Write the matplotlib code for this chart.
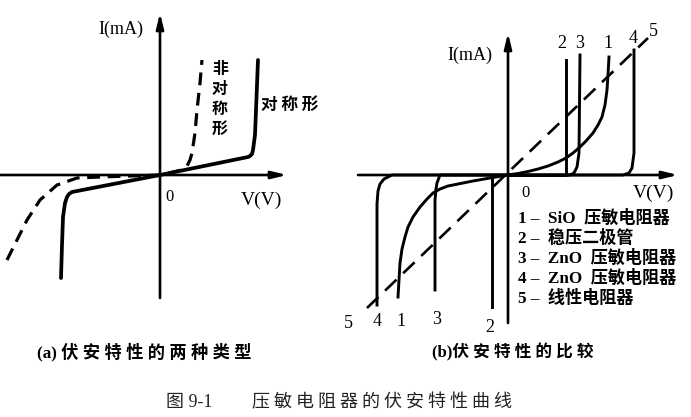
import matplotlib
matplotlib.use("Agg")
import matplotlib.pyplot as plt

W, H = 691, 417

# ---------------- data (arbitrary units, origin at 0) ----------------
# panel (a)
sym_v = [-99, -98, -97, -95, -93, -91, -88, 0, 88, 90, 92, 93, 95, 98]
sym_i = [-103, -70, -42, -28, -22, -19, -17, 0, 18, 19, 21, 25, 40, 115]
asym_v = [-153, -143, -133, -120, -103, -83, -60, 0, 22, 27, 30, 32, 35, 37, 40, 42]
asym_i = [-85, -65, -45, -25, -10, -3, -2, 0, 5, 9, 15, 22, 42, 65, 92, 115]

# panel (b)
sio_v = [-110, -109, -108, -106, -103, -100, -95, -88, -81, -75, -68, -60, -50,
         -35, -18, 0, 10, 20, 30, 40, 50, 58, 65, 72, 78, 85, 90, 94, 97, 99,
         100, 101]
sio_i = [-122, -105, -88, -74, -62, -52, -42, -32, -24, -18, -14, -11, -9,
         -6, -3, 0, 1.5, 3.5, 6, 9, 13, 17, 22, 28, 34, 42, 50, 58, 70, 85,
         100, 118]
zener_v = [-16, -16, 0, 58, 58]
zener_i = [-132, 0, 0, 0, 115]
zno3_v = [-73, -73, -72, -71, -68, 0, 62, 66, 69, 71, 72]
zno3_i = [-115, -25, -14, -8, 0, 0, 0, 2, 8, 22, 120]
zno4_v = [-131, -131, -130, -128, -124, -116, 0, 115, 121, 124, 126, 126]
zno4_i = [-130, -29, -16, -9, -4, 0, 0, 0, 2, 7, 22, 125]
lin_v = [-141, 140]
lin_i = [-133, 137]

top_labels = ["2", "3", "1", "4", "5"]
bottom_labels = ["5", "4", "1", "3", "2"]
legend_lines = ["1 –  SiO  压敏电阻器", "2 –  稳压二极管", "3 –  ZnO  压敏电阻器",
                "4 –  ZnO  压敏电阻器", "5 –  线性电阻器"]

# ---------------- figure ----------------
fig = plt.figure(figsize=(W / 100, H / 100), dpi=100)
fig.patch.set_facecolor("white")

LAT = ["Liberation Serif", "Noto Sans CJK SC", "DejaVu Sans"]
CJK = ["Noto Sans CJK SC", "DejaVu Sans"]


def panel(x0, x1, ox, oy):
    ax = fig.add_axes([x0 / W, 0, (x1 - x0) / W, 1])
    ax.set_xlim(x0 - ox, x1 - ox)
    ax.set_ylim(oy - H, oy)
    ax.axis("off")
    return ax


def axis_arrows(ax, xl, xr, yb, yt):
    ap = dict(arrowstyle="-|>,head_length=0.9,head_width=0.22", lw=1.9,
              color="black", shrinkA=0, shrinkB=0)
    ax.annotate("", xy=(xr, 0), xytext=(xl, 0), arrowprops=ap)
    ax.annotate("", xy=(0, yt), xytext=(0, yb), arrowprops=ap)


# panel (a): origin at pixel (160,175)
axa = panel(0, 345, 160, 175)
axis_arrows(axa, -160, 127, -123, 162)
axa.plot(sym_v, sym_i, color="black", lw=2.7, solid_joinstyle="round",
         solid_capstyle="round")
axa.plot(asym_v, asym_i, color="black", lw=2.3, ls=(0, (4, 2.4)))
axa.text(-39, 146, "I(mA)", family=LAT, fontsize=13, ha="center", va="center")
axa.text(9, -22, "0", family=LAT, fontsize=12, ha="center", va="center")
axa.text(101, -25, "V(V)", family=LAT, fontsize=14, ha="center", va="center")
axa.text(60, 76, "非\n对\n称\n形", family=CJK, fontsize=11.5, weight="bold",
         ha="center", va="center", linespacing=1.3)
axa.text(130, 70, "对 称 形", family=CJK, fontsize=12, weight="bold",
         ha="center", va="center")

# panel (b): origin at pixel (508,175)
axb = panel(345, 691, 508, 175)
axis_arrows(axb, -150, 170, -148, 142)
for v, i in [(sio_v, sio_i), (zener_v, zener_i), (zno3_v, zno3_i), (zno4_v, zno4_i)]:
    axb.plot(v, i, color="black", lw=2.1, solid_joinstyle="round")
axb.plot(lin_v, lin_i, color="black", lw=1.9, ls=(0, (6, 3.5)))
axb.text(-38, 120, "I(mA)", family=LAT, fontsize=13, ha="center", va="center")
axb.text(17, -18, "0", family=LAT, fontsize=12, ha="center", va="center")
axb.text(145, -18, "V(V)", family=LAT, fontsize=14, ha="center", va="center")

top_pos = [(54, 132), (72, 132), (100, 132), (125, 137), (145, 144)]
for lab, (x, y) in zip(top_labels, top_pos):
    axb.text(x, y, lab, family=LAT, fontsize=13, ha="center", va="center")
bot_pos = [(-160, -148), (-131, -147), (-107, -147), (-71, -145), (-18, -152)]
for lab, (x, y) in zip(bottom_labels, bot_pos):
    axb.text(x, y, lab, family=LAT, fontsize=13, ha="center", va="center")

for k, line in enumerate(legend_lines):
    axb.text(10, -43 - 20 * k, line, family=LAT, fontsize=12.3, weight="bold",
             ha="left", va="center")

# captions (figure pixel positions)
def ftext(x, y, s, **kw):
    fig.text(x / W, 1 - y / H, s, **kw)

ftext(37, 352, "(a) 伏 安 特 性 的 两 种 类 型", family=LAT, fontsize=12.4,
      weight="bold", ha="left", va="center")
ftext(432, 352, "(b)伏 安 特 性 的 比 较", family=LAT, fontsize=12,
      weight="bold", ha="left", va="center")
ftext(166, 402, "图 9-1", family=LAT, fontsize=13, color="#222222",
      ha="left", va="center")
ftext(252, 402, "压 敏 电 阻 器 的 伏 安 特 性 曲 线", family=CJK, fontsize=13,
      color="#222222", ha="left", va="center")

fig.savefig("out.png", dpi=100, facecolor="white")
